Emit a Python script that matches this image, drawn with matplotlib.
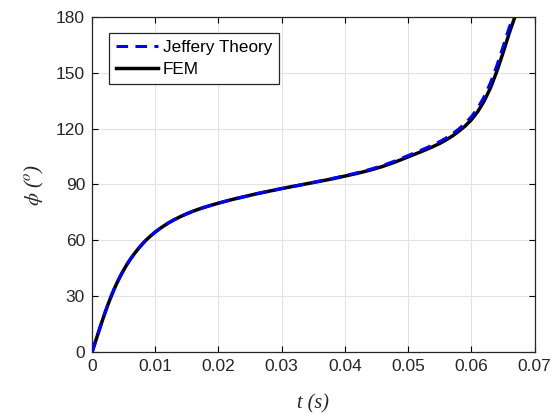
import matplotlib
matplotlib.use("Agg")
import matplotlib.pyplot as plt

# data
t_fem = [0, 0.0005, 0.001, 0.0015, 0.002, 0.0025, 0.003, 0.0035, 0.004, 0.0045,
         0.005, 0.0055, 0.006, 0.0065, 0.007, 0.0075, 0.008, 0.0085, 0.009, 0.0095,
         0.010, 0.011, 0.012, 0.013, 0.014, 0.015, 0.016, 0.017, 0.018, 0.019,
         0.020, 0.022, 0.024, 0.026, 0.028, 0.030, 0.032, 0.034, 0.036, 0.038,
         0.040, 0.042, 0.044, 0.046, 0.048, 0.050, 0.052, 0.054, 0.055, 0.056,
         0.057, 0.058, 0.059, 0.060, 0.061, 0.062, 0.063, 0.064, 0.065, 0.066, 0.0669]
phi_fem = [0, 5.3, 10.5, 15.7, 20.7, 25.4, 29.8, 33.9, 37.6, 41.0,
           44.1, 47.0, 49.6, 52.0, 54.2, 56.3, 58.2, 60.0, 61.6, 63.1,
           64.5, 67.0, 69.2, 71.1, 72.8, 74.3, 75.7, 76.9, 78.0, 79.0,
           80.0, 81.8, 83.4, 85.0, 86.4, 87.8, 89.1, 90.4, 91.7, 93.0,
           94.5, 96.0, 97.7, 99.7, 102.1, 104.8, 107.5, 110.4, 112.0, 113.9,
           116.0, 118.5, 121.3, 124.7, 129.0, 134.6, 141.6, 150.4, 160.5, 171.3, 180.0]

t_jef = [0, 0.0005, 0.001, 0.0015, 0.002, 0.0025, 0.003, 0.0035, 0.004, 0.0045,
         0.005, 0.0055, 0.006, 0.0065, 0.007, 0.0075, 0.008, 0.0085, 0.009, 0.0095,
         0.010, 0.011, 0.012, 0.013, 0.014, 0.015, 0.016, 0.017, 0.018, 0.019,
         0.020, 0.022, 0.024, 0.026, 0.028, 0.030, 0.032, 0.034, 0.036, 0.038,
         0.040, 0.042, 0.044, 0.046, 0.048, 0.050, 0.052, 0.054, 0.055, 0.056,
         0.057, 0.058, 0.059, 0.060, 0.061, 0.062, 0.063, 0.064, 0.065, 0.066, 0.0667]
phi_jef = [0, 5.3, 10.5, 15.7, 20.7, 25.4, 29.8, 33.9, 37.6, 41.0,
           44.1, 47.0, 49.6, 52.0, 54.2, 56.3, 58.2, 60.0, 61.6, 63.1,
           64.5, 67.0, 69.2, 71.1, 72.8, 74.3, 75.7, 76.9, 78.0, 79.0,
           80.0, 81.8, 83.4, 85.0, 86.4, 87.8, 89.1, 90.4, 91.8, 93.2,
           94.7, 96.3, 98.1, 100.2, 102.7, 105.5, 108.3, 111.3, 113.0, 114.9,
           117.1, 119.7, 122.7, 126.3, 130.9, 136.9, 144.3, 153.4, 163.7, 174.3, 180.0]

xticks = [0, 0.01, 0.02, 0.03, 0.04, 0.05, 0.06, 0.07]
xticklabels = ["0", "0.01", "0.02", "0.03", "0.04", "0.05", "0.06", "0.07"]
yticks = [0, 30, 60, 90, 120, 150, 180]

plt.rcParams['mathtext.fontset'] = 'stix'
plt.rcParams['font.family'] = ['Liberation Sans', 'DejaVu Sans']

fig = plt.figure(figsize=(5.56, 4.15), dpi=100)
ax = fig.add_axes([0.1655, 0.151, 0.796, 0.809])

ax.plot(t_jef, phi_jef, color='#0000ff', lw=2.2, ls=(0, (3.8, 2.4)),
        label='Jeffery Theory', zorder=3)
ax.plot(t_fem, phi_fem, color='black', lw=2.5, label='FEM', zorder=2)

ax.set_xlim(0, 0.07)
ax.set_ylim(0, 180)
ax.set_xticks(xticks)
ax.set_xticklabels(xticklabels)
ax.set_yticks(yticks)
ax.grid(True, color='#e3e3e3', lw=0.8)
ax.set_axisbelow(True)
ax.tick_params(direction='in', top=True, right=True, labelsize=12.5,
               length=4, width=0.8, colors='black', pad=5)
for lab in ax.get_xticklabels() + ax.get_yticklabels():
    lab.set_color('#262626')
for s in ax.spines.values():
    s.set_linewidth(0.9)
    s.set_color('#262626')

ax.set_xlabel('t (s)', fontsize=14.5, labelpad=14.5, family='Liberation Serif',
              style='italic', color='#262626')
ax.set_ylabel(r'$\phi$ ($^o$)', fontsize=15, labelpad=7, family='Liberation Serif',
              style='italic', color='#262626')

leg = ax.legend(loc='upper left', bbox_to_anchor=(0.038, 0.951), fontsize=12.3,
                fancybox=False, framealpha=1, edgecolor='#262626',
                handlelength=2.45, handletextpad=0.32, borderpad=0.4,
                labelspacing=0.43, borderaxespad=0)
leg.get_frame().set_linewidth(0.9)

fig.savefig('out.png', dpi=100)
